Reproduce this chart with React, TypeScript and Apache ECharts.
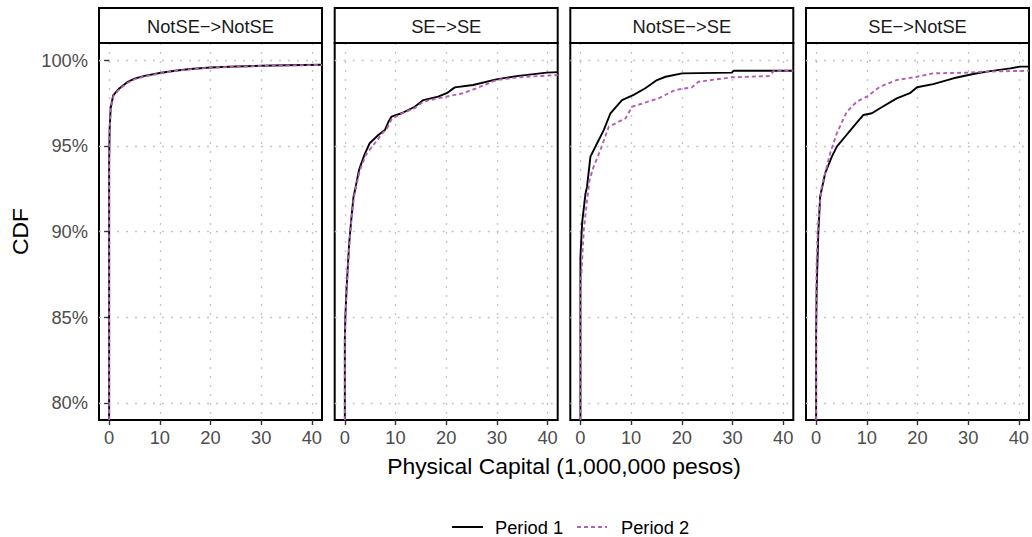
import React, { useEffect, useRef } from "react";
import * as echarts from "echarts";

// ---- Data ----
const facets = ["NotSE\u2212>NotSE", "SE\u2212>SE", "NotSE\u2212>SE", "SE\u2212>NotSE"];
const seriesNames = ["Period 1", "Period 2"];
const xTicks = [0, 10, 20, 30, 40];
const yTicks = [80, 85, 90, 95, 100];

// values: [capital (1,000,000 pesos), CDF %]
const notseNotseP1: [number, number][] = [
  [0, 70], [0, 94], [0.1, 96], [0.3, 97.2], [0.8, 97.95], [2, 98.35], [3.5, 98.7], [5, 98.92],
  [7, 99.08], [10, 99.25], [13, 99.38], [16, 99.48], [20, 99.57], [25, 99.63], [30, 99.67],
  [35, 99.7], [42, 99.73],
];
const notseNotseP2: [number, number][] = [
  [0, 70], [0, 94], [0.12, 96], [0.35, 97.2], [0.85, 97.9], [2, 98.3], [3.5, 98.65], [5, 98.88],
  [7, 99.05], [10, 99.22], [13, 99.36], [16, 99.47], [20, 99.56], [25, 99.62], [30, 99.66],
  [35, 99.69], [42, 99.72],
];
const seSeP1: [number, number][] = [
  [0, 70], [0, 83.7], [0.1, 85], [0.33, 86.6], [0.6, 88], [0.85, 89.3], [1.3, 90.8], [1.7, 92],
  [2, 92.4], [2.8, 93.6], [3.9, 94.5], [4.9, 95.15], [6.6, 95.63], [7.9, 95.92], [8.6, 96.4],
  [9.2, 96.7], [11.2, 96.9], [13.8, 97.28], [15.5, 97.67], [18.4, 97.87], [20.1, 98.07],
  [21.7, 98.41], [25.3, 98.55], [29.9, 98.88], [33.9, 99.07], [39.8, 99.27], [42, 99.3],
];
const seSeP2: [number, number][] = [
  [0, 70], [0, 83.5], [0.12, 85], [0.36, 86.6], [0.65, 88], [0.9, 89.3], [1.35, 90.8], [1.8, 92],
  [2.2, 92.6], [3, 93.6], [4.2, 94.5], [5.9, 95.15], [7.3, 95.7], [8.3, 96.0], [9.3, 96.6],
  [11, 96.85], [13.8, 97.2], [15.5, 97.58], [20, 97.87], [23.3, 98.07], [26, 98.36],
  [29.9, 98.84], [33.9, 98.98], [37, 99.05], [42, 99.13],
];
const notseSeP1: [number, number][] = [
  [0, 70], [0, 88.5], [0.33, 90.5], [0.99, 92.2], [1.3, 92.6], [1.97, 94.37], [3.29, 95.15],
  [4.6, 95.92], [5.92, 96.9], [8.2, 97.67], [10.5, 97.97], [12.8, 98.36], [15.1, 98.84],
  [16.8, 99.03], [20.06, 99.23], [29.9, 99.27], [30.2, 99.38], [42, 99.38],
];
const notseSeP2: [number, number][] = [
  [0, 70], [0, 87], [0.2, 87.6], [0.66, 90.1], [1.3, 91.8], [1.8, 93], [2.5, 93.7], [3.94, 94.76],
  [5.6, 96.12], [8.9, 96.6], [10.2, 97.28], [15.4, 97.77], [18.7, 98.26], [22, 98.41],
  [23.3, 98.74], [29.9, 99.0], [37.2, 99.07], [38.2, 99.38], [42, 99.38],
];
const seNotseP1: [number, number][] = [
  [0, 70], [0, 84], [0.1, 86.6], [0.43, 89.9], [0.79, 92.03], [1.78, 93.4], [3.1, 94.37],
  [4.08, 94.95], [5.7, 95.53], [7.36, 96.12], [9.33, 96.8], [11, 96.9], [12.6, 97.19],
  [15.9, 97.77], [18.5, 98.07], [19.9, 98.42], [23.1, 98.6], [27.1, 98.94], [31, 99.19],
  [33.7, 99.33], [38.3, 99.52], [40.2, 99.62], [42, 99.62],
];
const seNotseP2: [number, number][] = [
  [0, 70], [0, 86], [0.1, 88.2], [0.4, 90.5], [0.8, 91.8], [1.12, 92.62], [2.76, 94.56],
  [4.08, 95.73], [6.05, 96.99], [8.03, 97.58], [10, 97.87], [12.6, 98.45], [15.9, 98.84],
  [19.86, 99.03], [23.1, 99.23], [29.9, 99.27], [33.1, 99.33], [42, 99.38],
];

const panelData: [number, number][][][] = [
  [notseNotseP1, notseNotseP2],
  [seSeP1, seSeP2],
  [notseSeP1, notseSeP2],
  [seNotseP1, seNotseP2],
];

// ---- Layout / style ----
const FONT = "Liberation Sans, Arial, Helvetica, sans-serif";
const panelLefts = [99, 334.7, 570.3, 806];
const panelW = 223;
const panelTop = 43;
const panelH = 377;
const stripTop = 8;
const stripH = 35;
const colors = ["#000000", "#B45FB4"];

export default function App() {
  const ref = useRef<HTMLDivElement>(null);

  useEffect(() => {
    if (!ref.current) return;
    const chart = echarts.init(ref.current, undefined, { renderer: "svg" });

    const grids = panelLefts.map((l) => ({
      left: l,
      top: panelTop,
      width: panelW,
      height: panelH,
      show: true,
      borderColor: "#000",
      borderWidth: 2,
      backgroundColor: "transparent",
      containLabel: false,
    }));

    const gridLine = { show: true, lineStyle: { color: "#C4C4C4", width: 1.3, type: [2, 7] } };

    const xAxes = panelLefts.map((_, i) => ({
      type: "value",
      gridIndex: i,
      min: -2,
      max: 42,
      axisLine: { show: false },
      axisTick: { show: true, length: 5, customValues: xTicks, lineStyle: { color: "#333", width: 1.4 } },
      axisLabel: {
        show: true,
        customValues: xTicks,
        fontSize: 18.3,
        fontFamily: FONT,
        color: "#4D4D4D",
        margin: 8,
      },
      splitLine: gridLine,
    }));

    const yAxes = panelLefts.map((_, i) => ({
      type: "value",
      gridIndex: i,
      min: 79,
      max: 101,
      axisLine: { show: false },
      axisTick: { show: i === 0, length: 5, customValues: yTicks, lineStyle: { color: "#333", width: 1.4 } },
      axisLabel: {
        show: i === 0,
        customValues: yTicks,
        fontSize: 18.3,
        fontFamily: FONT,
        color: "#4D4D4D",
        margin: 11,
        formatter: (v: number) => `${v}%`,
      },
      splitLine: gridLine,
    }));

    const series: any[] = [];
    panelData.forEach((pair, i) => {
      pair.forEach((d, j) => {
        series.push({
          type: "line",
          name: seriesNames[j],
          xAxisIndex: i,
          yAxisIndex: i,
          data: d,
          symbol: "none",
          showSymbol: false,
          clip: true,
          z: 3 + j,
          lineStyle: { color: colors[j], width: 1.9, type: j === 0 ? "solid" : [4, 3] },
        });
      });
    });

    const graphics: any[] = [];
    panelLefts.forEach((l, i) => {
      graphics.push({
        type: "rect",
        shape: { x: l, y: stripTop, width: panelW, height: stripH },
        style: { fill: "#fff", stroke: "#000", lineWidth: 2 },
        z: 10,
      });
      graphics.push({
        type: "text",
        x: l + panelW / 2,
        y: stripTop + stripH / 2 + 0.5,
        style: {
          text: facets[i],
          fontSize: 18.3,
          fontFamily: FONT,
          fill: "#1A1A1A",
          align: "center",
          verticalAlign: "middle",
          textAlign: "center",
          textVerticalAlign: "middle",
        },
        z: 11,
      });
    });
    graphics.push({
      type: "text",
      x: 19.5,
      y: 231.5,
      rotation: Math.PI / 2,
      style: {
        text: "CDF",
        fontSize: 22.9,
        fontFamily: FONT,
        fill: "#000",
        align: "center",
        verticalAlign: "middle",
        textAlign: "center",
        textVerticalAlign: "middle",
      },
    });
    graphics.push({
      type: "text",
      x: 564,
      y: 466,
      style: {
        text: "Physical Capital (1,000,000 pesos)",
        fontSize: 22.9,
        fontFamily: FONT,
        fill: "#000",
        align: "center",
        verticalAlign: "middle",
        textAlign: "center",
        textVerticalAlign: "middle",
      },
    });
    // legend
    const legendItems = [
      { x0: 452, x1: 483, tx: 495 },
      { x0: 577, x1: 607, tx: 621 },
    ];
    legendItems.forEach((it, j) => {
      graphics.push({
        type: "line",
        shape: { x1: it.x0, y1: 527, x2: it.x1, y2: 527 },
        style: { stroke: colors[j], lineWidth: 2, lineDash: j === 0 ? null : [4, 3] },
      });
      graphics.push({
        type: "text",
        x: it.tx,
        y: 527,
        style: {
          text: seriesNames[j],
          fontSize: 18.3,
          fontFamily: FONT,
          fill: "#000",
          align: "left",
          verticalAlign: "middle",
          textAlign: "left",
          textVerticalAlign: "middle",
        },
      });
    });

    chart.setOption({
      animation: false,
      backgroundColor: "#fff",
      grid: grids,
      xAxis: xAxes,
      yAxis: yAxes,
      series,
      graphic: graphics,
    });

    return () => chart.dispose();
  }, []);

  return (
    <div
      ref={ref}
      style={{ position: "absolute", left: 0, top: 0, width: 1032, height: 537 }}
    />
  );
}
